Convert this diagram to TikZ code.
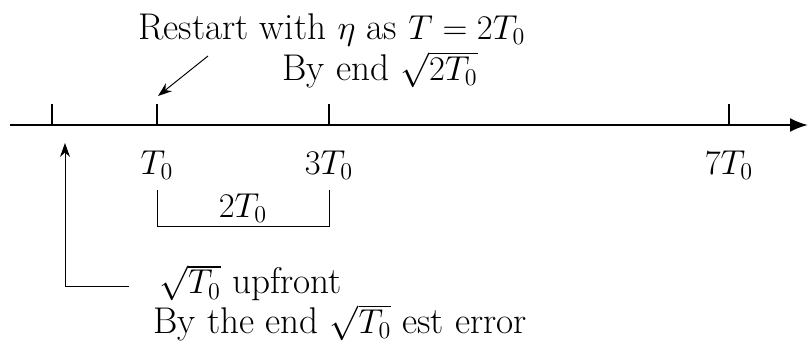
\documentclass[tikz,border=0pt]{standalone}
\usetikzlibrary{arrows.meta}
\begin{document}
\begin{tikzpicture}[x=0.5pt,y=-0.5pt,
  lbl/.style={inner sep=0pt,font=\fontsize{18.6}{22}\selectfont},
  axis/.style={line width=1.2pt},
  tick/.style={line width=0.9pt},
  thin/.style={line width=0.5pt}]
\useasboundingbox (0,0) rectangle (808,348);
% axis
\coordinate (a0) at (10,125);
\coordinate (a1) at (808,125);
\draw[axis,-{Latex[length=9pt,width=7pt]}] (a0) -- (a1);
% ticks
\foreach \n/\x in {t0/52,t1/157,t3/329,t7/729}{
  \coordinate (\n) at (\x,125);
  \coordinate (\n u) at (\x,104);
  \draw[tick] (\n) -- (\n u);
}
% labels
\node[lbl] (l1) at (157,165) {$T_0$};
\node[lbl] (l3) at (329,165) {$3T_0$};
\node[lbl] (l7) at (729,165) {$7T_0$};
% bracket
\coordinate (b1) at (157,190);
\coordinate (b3) at (329,190);
\coordinate (b1d) at (157,226);
\coordinate (b3d) at (329,226);
\draw[thin] (b1) -- (b1d) -- (b3d) -- (b3);
\node[lbl] (two) at (243,208) {$2T_0$};
% top texts
\node[lbl,anchor=west] (restart) at (138,30) {Restart with $\eta$ as $T=2T_0$};
\node[lbl,anchor=west] (byend) at (282,70) {By end $\sqrt{2T_0}$};
\coordinate (ra) at (208,56);
\coordinate (rb) at (158,96);
\draw[thin,-{Stealth[length=7pt,width=5pt]}] (ra) -- (rb);
% bottom
\node[lbl,anchor=west] (upfront) at (159,283) {$\sqrt{T_0}$ upfront};
\node[lbl,anchor=west] (bytheend) at (153,323) {By the end $\sqrt{T_0}$ est error};
\coordinate (ua) at (129,286);
\coordinate (ub) at (65,286);
\coordinate (uc) at (65,143);
\draw[thin,-{Stealth[length=7pt,width=5pt]}] (ua) -- (ub) -- (uc);
\end{tikzpicture}
\end{document}
